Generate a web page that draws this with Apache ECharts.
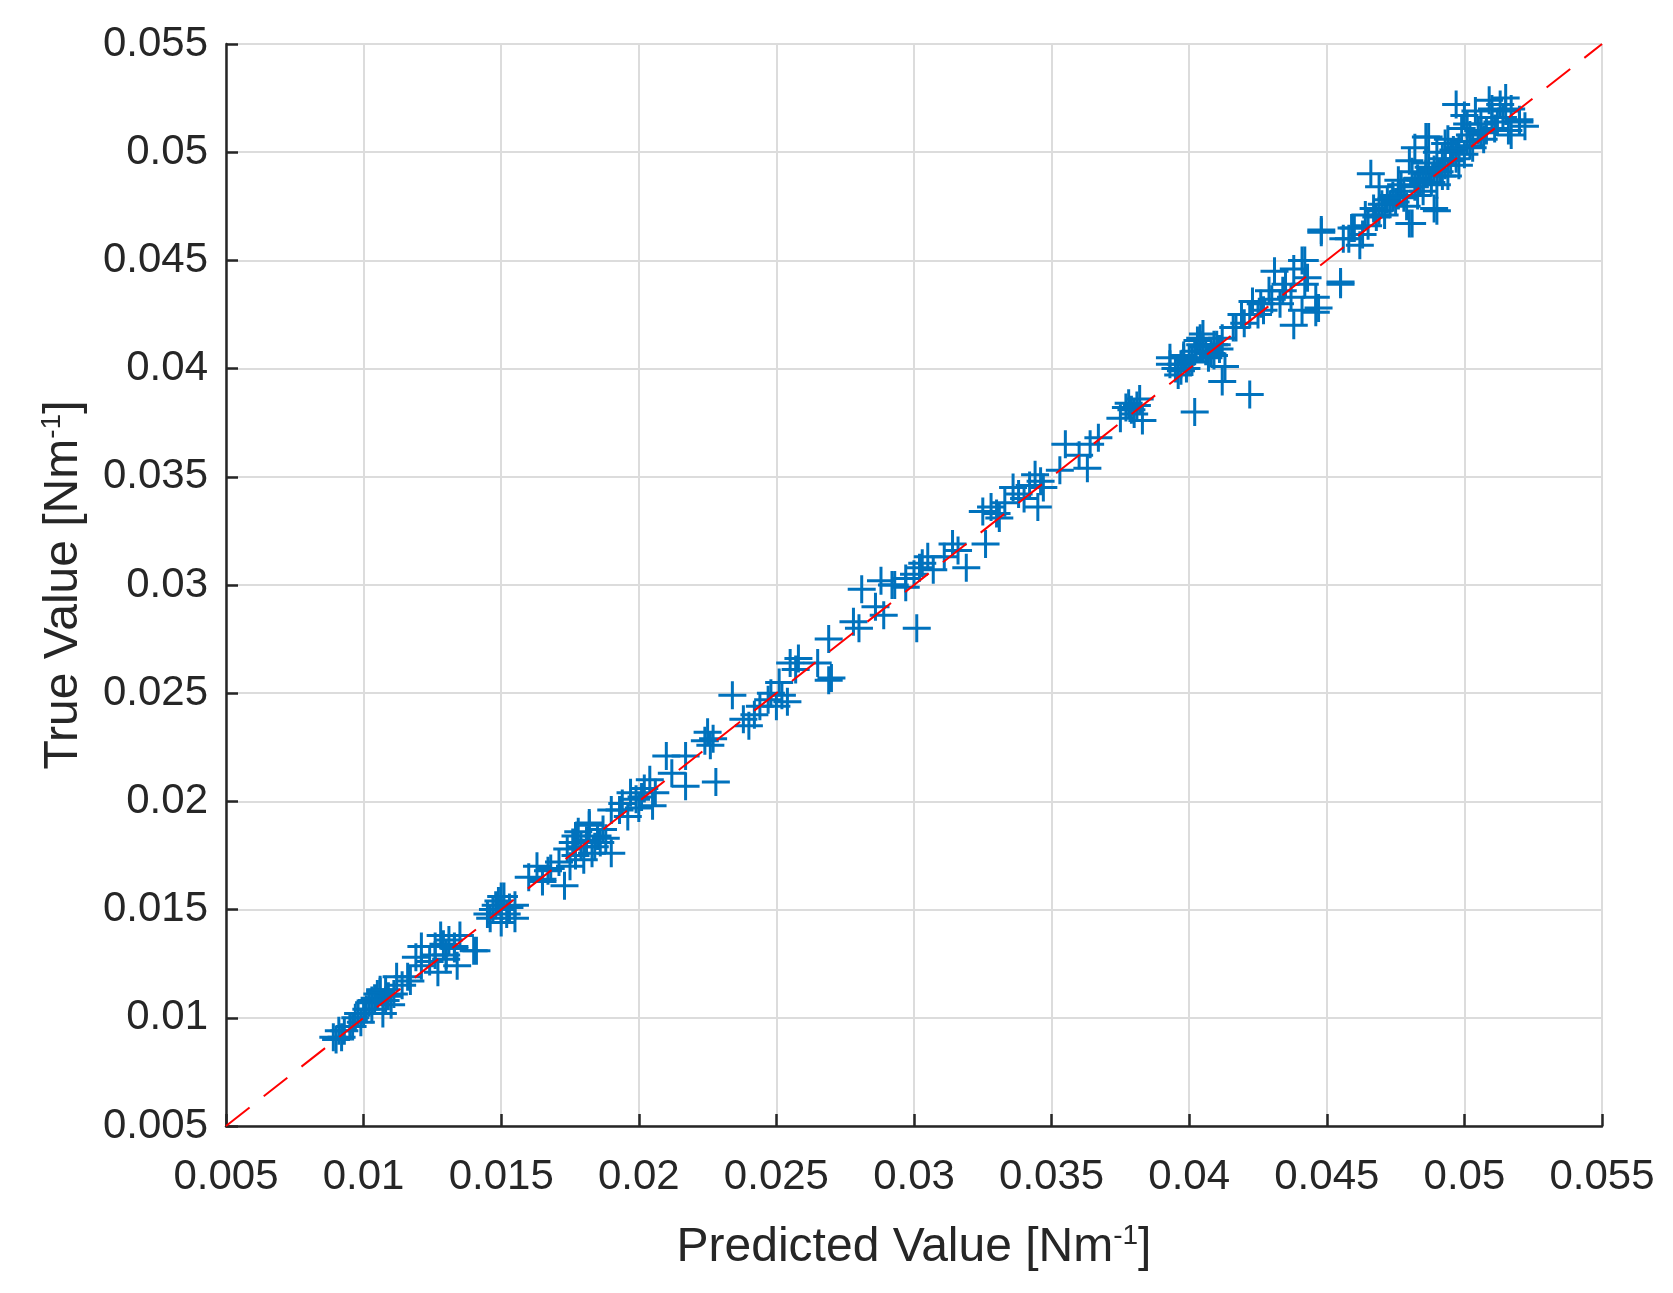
<!DOCTYPE html>
<html>
<head>
<meta charset="utf-8">
<script src="https://cdn.jsdelivr.net/npm/echarts@6/dist/echarts.min.js"></script>
<style>
  html, body { margin: 0; padding: 0; background: #fff; }
  #chart { width: 1673px; height: 1293px; }
</style>
</head>
<body>
<div id="chart"></div>
<script>
// Axis ticks
const xTicks = [0.005, 0.01, 0.015, 0.02, 0.025, 0.03, 0.035, 0.04, 0.045, 0.05, 0.055];
const yTicks = [0.005, 0.01, 0.015, 0.02, 0.025, 0.03, 0.035, 0.04, 0.045, 0.05, 0.055];

// Reference line (perfect prediction)
const refLine = [[0.005, 0.005], [0.055, 0.055]];

// [predicted, true] pairs, grouped by range
const pointsLow = [
  [0.0089,0.0091],[0.0090,0.0090],[0.0091,0.0094],[0.0093,0.0094],[0.0095,0.0096],[0.0096,0.0096],
  [0.0098,0.0102],[0.0099,0.0098],[0.0100,0.0102],[0.0101,0.0104],[0.0102,0.0107],[0.0103,0.0108],
  [0.0104,0.0109],[0.0105,0.0111],[0.0106,0.0113],[0.0106,0.0112],[0.0107,0.0102],[0.0108,0.0113],
  [0.0109,0.0110],[0.0110,0.0106],[0.0111,0.0111],[0.0112,0.0119],[0.0116,0.0119],[0.0117,0.0117],
  [0.0097,0.0100],[0.0103,0.0104],[0.0108,0.0108],[0.0114,0.0115],[0.0092,0.0091],
  [0.0119,0.0128],[0.0121,0.0124],[0.0121,0.0133],[0.0124,0.0126],[0.0126,0.0133],[0.0126,0.0129],
  [0.0127,0.0121],[0.0128,0.0138],[0.0129,0.0134],[0.0130,0.0127],[0.0130,0.0129],[0.0131,0.0136],
  [0.0133,0.0133],[0.0133,0.0132],[0.0134,0.0124],[0.0135,0.0138],[0.0140,0.0131],[0.0141,0.0131],
  [0.0145,0.0148],[0.0146,0.0146],[0.0147,0.0150],[0.0148,0.0152],[0.0149,0.0154],[0.0150,0.0156],
  [0.0150,0.0144],[0.0150,0.0150],[0.0151,0.0156],[0.0152,0.0148],[0.0153,0.0151],[0.0155,0.0152],
  [0.0155,0.0146],[0.0160,0.0165],[0.0163,0.0170],[0.0165,0.0164],[0.0165,0.0163],[0.0167,0.0168],
  [0.0168,0.0169],[0.0173,0.0161],[0.0174,0.0178],[0.0176,0.0181],[0.0177,0.0175],[0.0177,0.0184],
  [0.0178,0.0186],[0.0179,0.0179],[0.0180,0.0173],[0.0181,0.0182],[0.0182,0.0189],[0.0182,0.0190],
  [0.0183,0.0176],[0.0184,0.0179],[0.0185,0.0184],[0.0186,0.0181],[0.0187,0.0187],[0.0190,0.0176],
  [0.0190,0.0196],[0.0193,0.0196],[0.0171,0.0172],[0.0175,0.0170],[0.0188,0.0183]
];
const pointsMidLow = [
  [0.0194,0.0199],[0.0196,0.0193],[0.0199,0.0201],[0.0197,0.0204],[0.0200,0.0197],[0.0202,0.0206],
  [0.0204,0.0210],[0.0205,0.0198],[0.0206,0.0204],[0.0210,0.0221],[0.0212,0.0213],[0.0217,0.0221],
  [0.0217,0.0207],[0.0224,0.0228],[0.0225,0.0232],[0.0226,0.0226],[0.0227,0.0229],[0.0228,0.0209],
  [0.0234,0.0249],[0.0238,0.0238],[0.0240,0.0235],[0.0242,0.0240],[0.0244,0.0244],[0.0248,0.0250],
  [0.0250,0.0244],[0.0251,0.0255],[0.0252,0.0249],[0.0254,0.0246],[0.0255,0.0264],[0.0257,0.0261],
  [0.0258,0.0266],[0.0265,0.0264],[0.0269,0.0275],[0.0270,0.0257],[0.0269,0.0256],[0.0278,0.0283],
  [0.0280,0.0280],[0.0281,0.0298],[0.0286,0.0290],[0.0201,0.0202],[0.0247,0.0247]
];
const pointsMid = [
  [0.0288,0.0302],[0.0289,0.0286],[0.0292,0.0300],[0.0293,0.0300],[0.0297,0.0303],[0.0297,0.0299],
  [0.0300,0.0305],[0.0301,0.0280],[0.0303,0.0310],[0.0305,0.0313],[0.0307,0.0307],[0.0311,0.0313],
  [0.0314,0.0319],[0.0316,0.0316],[0.0319,0.0308],[0.0326,0.0319],[0.0325,0.0334],[0.0328,0.0336],
  [0.0330,0.0333],[0.0331,0.0331],[0.0336,0.0345],[0.0338,0.0342],[0.0340,0.0340],[0.0344,0.0351],
  [0.0345,0.0336],[0.0346,0.0348],[0.0347,0.0345],[0.0353,0.0353],[0.0355,0.0365],[0.0360,0.0360],
  [0.0363,0.0354],[0.0364,0.0365],[0.0367,0.0368],[0.0375,0.0377],[0.0377,0.0382],[0.0378,0.0384],
  [0.0380,0.0379],[0.0381,0.0383],[0.0382,0.0386],[0.0383,0.0376],[0.0302,0.0308],[0.0333,0.0338],
  [0.0342,0.0346],[0.0379,0.0381]
];
const pointsMidHigh = [
  [0.0393,0.0402],[0.0393,0.0405],[0.0396,0.0397],[0.0397,0.0399],[0.0397,0.0402],[0.0398,0.0405],
  [0.0398,0.0406],[0.0399,0.0400],[0.0401,0.0403],[0.0402,0.0380],[0.0403,0.0413],[0.0404,0.0411],
  [0.0404,0.0414],[0.0405,0.0416],[0.0406,0.0408],[0.0407,0.0405],[0.0408,0.0407],[0.0409,0.0411],
  [0.0410,0.0411],[0.0411,0.0409],[0.0412,0.0394],[0.0413,0.0401],[0.0416,0.0419],[0.0417,0.0419],
  [0.0395,0.0400],[0.0400,0.0404],[0.0402,0.0408],[0.0405,0.0410],[0.0409,0.0406],[0.0412,0.0414],
  [0.0419,0.0425],[0.0420,0.0421],[0.0422,0.0388],[0.0422,0.0425],[0.0423,0.0431],[0.0425,0.0425],
  [0.0427,0.0427],[0.0429,0.0436],[0.0431,0.0445],[0.0433,0.0430],[0.0435,0.0439],[0.0437,0.0433],
  [0.0438,0.0420],[0.0438,0.0446],[0.0441,0.0450],[0.0441,0.0427],[0.0442,0.0439],[0.0443,0.0442],
  [0.0446,0.0433],[0.0446,0.0426],[0.0447,0.0428],[0.0426,0.0430],[0.0430,0.0432],[0.0434,0.0436]
];
const pointsHigh = [
  [0.0442,0.0450],[0.0448,0.0463],[0.0448,0.0464],[0.0455,0.0439],[0.0455,0.0440],[0.0456,0.0460],
  [0.0458,0.0460],[0.0459,0.0465],[0.0460,0.0465],[0.0462,0.0457],[0.0463,0.0462],[0.0464,0.0471],
  [0.0465,0.0466],[0.0466,0.0490],[0.0467,0.0474],[0.0468,0.0470],[0.0469,0.0484],[0.0470,0.0476],
  [0.0471,0.0471],[0.0472,0.0478],[0.0474,0.0479],[0.0474,0.0480],[0.0476,0.0480],[0.0476,0.0487],
  [0.0477,0.0485],[0.0478,0.0482],[0.0479,0.0475],[0.0480,0.0496],[0.0480,0.0467],[0.0481,0.0467],
  [0.0481,0.0491],[0.0482,0.0502],[0.0483,0.0488],[0.0483,0.0480],[0.0484,0.0487],[0.0485,0.0482],
  [0.0486,0.0507],[0.0486,0.0490],[0.0487,0.0507],[0.0487,0.0493],[0.0488,0.0486],[0.0489,0.0474],
  [0.0490,0.0473],[0.0490,0.0485],[0.0491,0.0491],[0.0492,0.0497],[0.0492,0.0489],[0.0493,0.0504],
  [0.0494,0.0489],[0.0495,0.0496],[0.0495,0.0500],[0.0496,0.0501],[0.0497,0.0522],[0.0497,0.0497],
  [0.0498,0.0494],[0.0499,0.0511],[0.0500,0.0499],[0.0500,0.0517],[0.0501,0.0505],[0.0502,0.0508],
  [0.0503,0.0502],[0.0504,0.0519],[0.0505,0.0510],[0.0506,0.0513],[0.0507,0.0506],[0.0508,0.0510],
  [0.0509,0.0524],[0.0510,0.0520],[0.0512,0.0514],[0.0514,0.0516],[0.0515,0.0525],[0.0515,0.0519],
  [0.0516,0.0510],[0.0517,0.0508],[0.0517,0.0520],[0.0520,0.0514],[0.0520,0.0515],[0.0522,0.0512],
  [0.0469,0.0473],[0.0473,0.0476],[0.0475,0.0477],[0.0478,0.0479],[0.0482,0.0484],[0.0485,0.0486],
  [0.0489,0.0492],[0.0493,0.0494],[0.0498,0.0502],[0.0502,0.0503],[0.0506,0.0509],[0.0511,0.0511],
  [0.0486,0.0495],[0.0490,0.0500],[0.0494,0.0506],[0.0510,0.0516],[0.0513,0.0522],[0.0501,0.0513]
];

const allPoints = [].concat(pointsLow, pointsMidLow, pointsMid, pointsMidHigh, pointsHigh);

const plusPath = 'path://M12.5,0h3v28h-3zM0,12.5h28v3h-28z';
const fmt = v => String(+v.toFixed(3));
const FONT = '"Liberation Sans", Arial, Helvetica, sans-serif';
const supStyle = { fontFamily: FONT, fontSize: 28, color: '#262626', verticalAlign: 'top', padding: [0, 0, 24, 0] };

const chart = echarts.init(document.getElementById('chart'), null, { renderer: 'canvas' });
chart.setOption({
  backgroundColor: '#ffffff',
  animation: false,
  grid: { left: 226, top: 44, right: 71, bottom: 167, containLabel: false },
  xAxis: {
    type: 'value',
    min: xTicks[0], max: xTicks[xTicks.length - 1], interval: 0.005,
    name: 'Predicted Value [Nm{s|-1}]',
    nameLocation: 'middle',
    nameGap: 96,
    nameTextStyle: { fontFamily: FONT, fontSize: 48, color: '#262626', rich: { s: supStyle } },
    axisLine: { show: true, onZero: false, lineStyle: { color: '#262626', width: 2.5 } },
    axisTick: { show: true, inside: true, length: 12, lineStyle: { color: '#262626', width: 2.5 } },
    axisLabel: { fontFamily: FONT, fontSize: 42, color: '#262626', margin: 30, formatter: fmt },
    splitLine: { show: true, lineStyle: { color: '#dcdcdc', width: 2 } }
  },
  yAxis: {
    type: 'value',
    min: yTicks[0], max: yTicks[yTicks.length - 1], interval: 0.005,
    name: 'True Value [Nm{s|-1}]',
    nameLocation: 'middle',
    nameGap: 136,
    nameRotate: 90,
    nameTextStyle: { fontFamily: FONT, fontSize: 48, color: '#262626', rich: { s: supStyle } },
    axisLine: { show: true, onZero: false, lineStyle: { color: '#262626', width: 2.5 } },
    axisTick: { show: true, inside: true, length: 12, lineStyle: { color: '#262626', width: 2.5 } },
    axisLabel: { fontFamily: FONT, fontSize: 42, color: '#262626', margin: 18, formatter: fmt },
    splitLine: { show: true, lineStyle: { color: '#dcdcdc', width: 2 } }
  },
  series: [
    {
      type: 'scatter',
      data: allPoints,
      symbol: plusPath,
      symbolSize: 28,
      itemStyle: { color: '#0072BD', opacity: 1 },
      z: 2
    },
    {
      type: 'line',
      data: refLine,
      symbol: 'none',
      lineStyle: { color: '#ff0000', width: 2, type: [30, 18] },
      z: 5
    }
  ]
});
</script>
</body>
</html>
